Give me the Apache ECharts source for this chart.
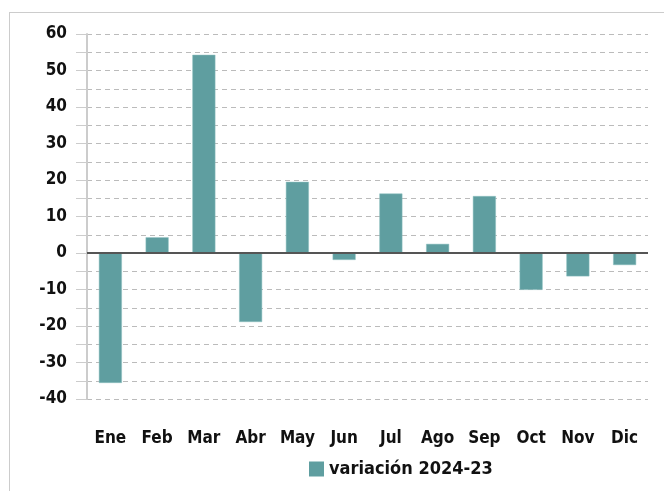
<!DOCTYPE html>
<html>
<head>
<meta charset="utf-8">
<script src="https://cdn.jsdelivr.net/npm/echarts@6/dist/echarts.min.js"></script>
<style>
  html, body { margin: 0; padding: 0; background: #fff; }
  #frame { position: absolute; left: 9px; top: 12px; width: 700px; height: 520px;
           border-left: 1px solid #ccc; border-top: 1px solid #ccc; }
  #chart { position: absolute; left: 0; top: 0; width: 664px; height: 491px; }
</style>
</head>
<body>
<div id="frame"></div>
<div id="chart"></div>
<script>
const months = ['Ene', 'Feb', 'Mar', 'Abr', 'May', 'Jun', 'Jul', 'Ago', 'Sep', 'Oct', 'Nov', 'Dic'];
const variacion = [-35.6, 4.3, 54.3, -18.9, 19.5, -1.9, 16.3, 2.5, 15.6, -10.1, -6.4, -3.3];
const seriesName = 'variación 2024-23';

const font = '"DejaVu Sans Condensed", "Liberation Sans Narrow", sans-serif';
var myChart = echarts.init(document.getElementById('chart'));

var option = {
    animation: false,
    textStyle: { fontFamily: font },
    grid: { left: 87, right: 16, top: 34, bottom: 92 },
    legend: {
        data: [{ name: seriesName, icon: 'rect', itemStyle: { borderWidth: 0 } }],
        bottom: 8,
        left: 304,
        itemWidth: 15,
        itemHeight: 15,
        itemGap: 8,
        textStyle: { fontFamily: font, fontWeight: 'bold', fontSize: 18, color: '#111' }
    },
    xAxis: {
        type: 'category',
        data: months,
        axisLine: { show: false, onZero: false },
        axisTick: { show: false },
        axisLabel: { interval: 0, margin: 31, fontFamily: font, fontWeight: 'bold', fontSize: 17, color: '#111' }
    },
    yAxis: {
        type: 'value',
        min: -40,
        max: 60,
        interval: 5,
        axisLine: { show: true, lineStyle: { color: '#ccc', width: 2 } },
        axisTick: { show: true, length: 11, lineStyle: { color: '#ccc', width: 1 } },
        axisLabel: {
            margin: 20,
            fontFamily: font, fontWeight: 'bold', fontSize: 17, color: '#111',
            formatter: v => (v % 10 === 0 ? String(v) : '')
        },
        splitLine: { show: true, lineStyle: { color: '#bbb', type: [5, 4], width: 1 } }
    },
    series: [
        {
            name: seriesName,
            type: 'bar',
            data: variacion,
            barWidth: 23,
            itemStyle: { color: '#5f9ea0', borderColor: '#8fc0c0', borderWidth: 0.5 },
            markLine: {
                silent: true,
                symbol: 'none',
                label: { show: false },
                lineStyle: { color: '#555', type: 'solid', width: 2 },
                data: [{ yAxis: 0 }]
            }
        }
    ]
};
option && myChart.setOption(option);
</script>
</body>
</html>
